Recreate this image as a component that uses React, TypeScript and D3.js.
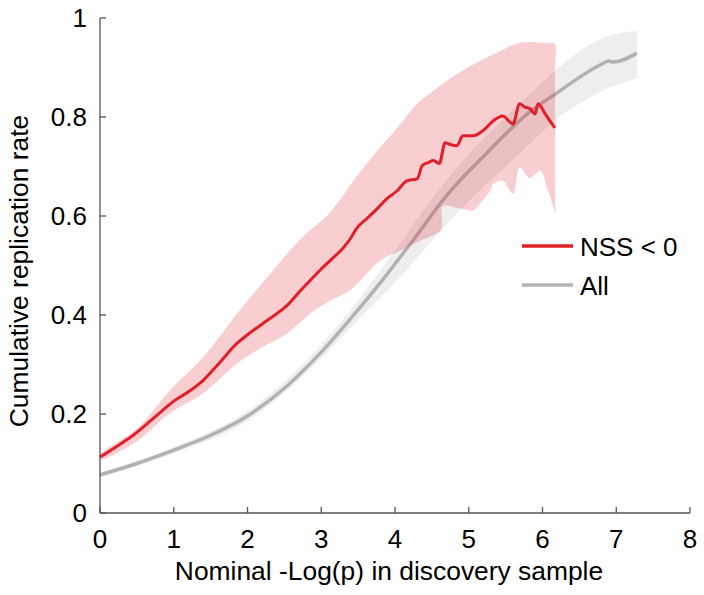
import React from "react";
import * as d3 from "d3";

// ---- data ----
const xTicks = [0, 1, 2, 3, 4, 5, 6, 7, 8];
const yTicks = [0, 0.2, 0.4, 0.6, 0.8, 1];
const yTickLabels = ["0", "0.2", "0.4", "0.6", "0.8", "1"];

// NSS < 0 mean curve
const nssX = [0, 0.2, 0.45, 0.7, 0.9, 1.0, 1.2, 1.4, 1.6, 1.86, 2.0, 2.21, 2.4, 2.54, 2.71, 2.85, 2.98, 3.12, 3.3, 3.39, 3.48, 3.62, 3.76, 3.89, 4.03, 4.16, 4.3, 4.37, 4.45, 4.52, 4.6, 4.68, 4.76, 4.84, 4.92, 5.06, 5.19, 5.33, 5.46, 5.6, 5.69, 5.76, 5.83, 5.9, 5.94, 6.03, 6.1, 6.17];
const nssY = [0.113, 0.132, 0.157, 0.188, 0.214, 0.226, 0.245, 0.268, 0.3, 0.343, 0.36, 0.383, 0.403, 0.42, 0.448, 0.47, 0.49, 0.51, 0.536, 0.553, 0.575, 0.595, 0.615, 0.635, 0.651, 0.671, 0.675, 0.702, 0.708, 0.712, 0.706, 0.748, 0.744, 0.742, 0.762, 0.762, 0.772, 0.792, 0.802, 0.786, 0.827, 0.82, 0.817, 0.806, 0.827, 0.808, 0.792, 0.778];

// NSS < 0 band
const nssUpX = [0, 0.5, 0.95, 1.4, 1.86, 2.31, 2.73, 3.12, 3.43, 3.76, 4.03, 4.3, 4.52, 4.84, 5.15, 5.42, 5.69, 5.97, 6.1, 6.17];
const nssUpY = [0.118, 0.17, 0.248, 0.315, 0.403, 0.484, 0.555, 0.607, 0.67, 0.732, 0.778, 0.827, 0.853, 0.887, 0.913, 0.933, 0.95, 0.95, 0.949, 0.948];
const nssEdgeY = [0.9, 0.78, 0.66];
const nssLoX = [0, 0.5, 0.95, 1.4, 1.86, 2.13, 2.54, 2.85, 3.12, 3.39, 3.8, 4.07, 4.34, 4.62, 4.65, 4.88, 5.06, 5.15, 5.29, 5.33, 5.46, 5.6, 5.69, 5.83, 5.97, 6.06, 6.15, 6.17];
const nssLoY = [0.108, 0.145, 0.202, 0.242, 0.302, 0.329, 0.363, 0.403, 0.429, 0.45, 0.51, 0.53, 0.55, 0.572, 0.62, 0.615, 0.611, 0.625, 0.651, 0.665, 0.671, 0.645, 0.698, 0.677, 0.692, 0.657, 0.617, 0.605];

// All mean curve
const allX = [0, 0.5, 1, 1.5, 2, 2.5, 3, 3.4, 3.8, 4.24, 4.71, 5.25, 5.79, 6.2, 6.47, 6.78, 6.9, 6.96, 7.28];
const allY = [0.077, 0.1, 0.127, 0.157, 0.196, 0.252, 0.325, 0.393, 0.465, 0.55, 0.643, 0.728, 0.806, 0.849, 0.877, 0.905, 0.913, 0.911, 0.929];

// All band
const allBandX = [0, 1, 2, 3, 3.5, 4, 4.5, 5, 5.5, 6, 6.2, 6.5, 6.9, 7.28];
const allBandLo = [0.072, 0.121, 0.186, 0.312, 0.39, 0.465, 0.55, 0.63, 0.7, 0.77, 0.798, 0.827, 0.859, 0.879];
const allBandHi = [0.082, 0.133, 0.206, 0.34, 0.43, 0.53, 0.635, 0.725, 0.8, 0.87, 0.897, 0.933, 0.964, 0.974];

const legendItems = ["NSS < 0", "All"];

const RED = "rgb(226,30,40)";
const GRAY = "rgb(178,178,178)";
const FONT = "'Liberation Sans', Arial, sans-serif";

export default function App() {
  const x = d3.scaleLinear().domain([0, 8]).range([100, 690]);
  const y = d3.scaleLinear().domain([0, 1]).range([513, 18]);

  const zip = (xs: number[], ys: number[]) => xs.map((v, i) => [v, ys[i]] as [number, number]);

  const smoothLine = d3
    .line<[number, number]>()
    .x((d) => x(d[0]))
    .y((d) => y(d[1]))
    .curve(d3.curveMonotoneX);

  const polyLine = d3
    .line<[number, number]>()
    .x((d) => x(d[0]))
    .y((d) => y(d[1]))
    .curve(d3.curveCatmullRomClosed.alpha(0.5));

  const lastX = nssUpX[nssUpX.length - 1];
  const nssLine = smoothLine(zip(nssX, nssY)) || "";
  const nssBand =
    polyLine([
      ...zip(nssUpX, nssUpY),
      ...nssEdgeY.map((v) => [lastX, v] as [number, number]),
      ...zip(nssLoX, nssLoY).reverse(),
    ]) || "";
  const allLine = smoothLine(zip(allX, allY)) || "";

  const allArea = d3
    .area<number>()
    .x((d) => x(d))
    .y0((_, i) => y(allBandLo[i]))
    .y1((_, i) => y(allBandHi[i]))
    .curve(d3.curveMonotoneX);
  const allBand = allArea(allBandX) || "";

  const axisColor = "#555";

  return (
    <svg
      width={704}
      height={595}
      style={{ position: "absolute", left: 0, top: 0, background: "#fff" }}
      fontFamily={FONT}
    >
      {/* bands and lines */}
      <path d={allBand} fill="rgb(205,205,205)" fillOpacity={0.35} stroke="none" />
      <path d={allLine} fill="none" stroke={GRAY} strokeWidth={3.5} strokeLinejoin="round" />
      <path d={nssBand} fill="rgb(226,30,45)" fillOpacity={0.22} stroke="none" />
      <path d={nssLine} fill="none" stroke={RED} strokeWidth={3} strokeLinejoin="round" />

      {/* axes */}
      <line x1={x(0)} x2={x(0)} y1={y(1)} y2={y(0)} stroke={axisColor} strokeWidth={1.3} />
      <line x1={x(0)} x2={x(8)} y1={y(0)} y2={y(0)} stroke={axisColor} strokeWidth={1.3} />
      {xTicks.map((t) => (
        <g key={"xt" + t}>
          <line x1={x(t)} x2={x(t)} y1={y(0)} y2={y(0) - 6} stroke={axisColor} strokeWidth={1.3} />
          <text x={x(t)} y={548} textAnchor="middle" fontSize={26} fill="#000">
            {t}
          </text>
        </g>
      ))}
      {yTicks.map((t, i) => (
        <g key={"yt" + t}>
          <line x1={x(0)} x2={x(0) + 6} y1={y(t)} y2={y(t)} stroke={axisColor} strokeWidth={1.3} />
          <text x={87} y={y(t) + 9} textAnchor="end" fontSize={26} fill="#000">
            {yTickLabels[i]}
          </text>
        </g>
      ))}

      {/* axis titles */}
      <text x={389} y={580} textAnchor="middle" fontSize={26.4} fill="#000">
        Nominal -Log(p) in discovery sample
      </text>
      <text
        transform={`translate(28,271) rotate(-90)`}
        textAnchor="middle"
        fontSize={26.4}
        fill="#000"
      >
        Cumulative replication rate
      </text>

      {/* legend */}
      {legendItems.map((name, i) => (
        <g key={name}>
          <line
            x1={522}
            x2={573}
            y1={246 + i * 39}
            y2={246 + i * 39}
            stroke={i === 0 ? RED : GRAY}
            strokeWidth={3.5}
          />
          <text x={580} y={256 + i * 39} fontSize={26} fill="#000">
            {name}
          </text>
        </g>
      ))}
    </svg>
  );
}
